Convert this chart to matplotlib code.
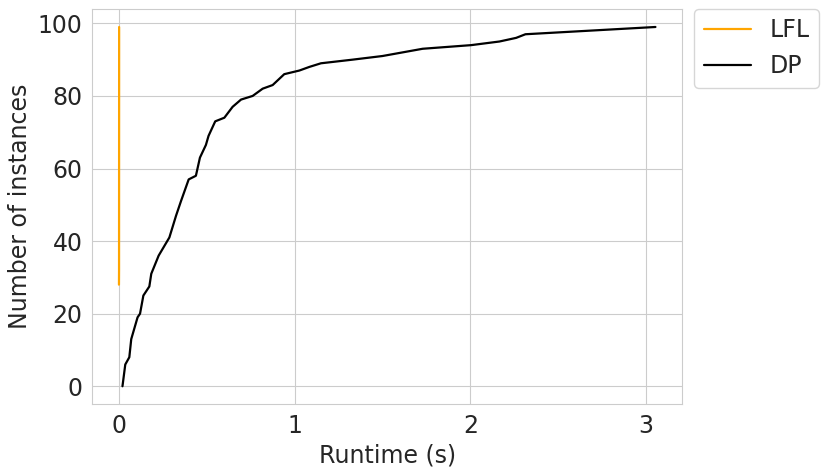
import matplotlib
matplotlib.use("Agg")
import matplotlib.pyplot as plt
import seaborn as sns

# LFL: all runtimes essentially zero
lfl_runtime = [0.0, 0.0005, 0.001]
lfl_count = [28, 32, 99]

# DP: cumulative number of solved instances vs runtime
dp_runtime = [0.02, 0.036, 0.059, 0.07, 0.106, 0.12, 0.139, 0.173, 0.184, 0.226,
              0.287, 0.325, 0.353, 0.397, 0.438, 0.461, 0.495, 0.51, 0.548, 0.60,
              0.647, 0.695, 0.761, 0.818, 0.875, 0.941, 1.027, 1.084, 1.15, 1.33,
              1.50, 1.729, 2.005, 2.166, 2.261, 2.314, 3.054]
dp_count = [0, 6, 8, 13, 19, 20, 25, 27.5, 31, 36,
            41, 47, 51, 57, 58, 63, 66.5, 69, 73, 74,
            77, 79, 80, 82, 83, 86, 87, 88, 89, 90,
            91, 93, 94, 95, 96, 97, 99]

sns.set_style("whitegrid")
plt.rcParams['font.family'] = ['DejaVu Sans']

fig, ax = plt.subplots(figsize=(8.3, 4.75), dpi=100)
ax.plot(lfl_runtime, lfl_count, color='orange', lw=1.6, label='LFL')
ax.plot(dp_runtime, dp_count, color='black', lw=1.6, label='DP')

ax.set_xlabel('Runtime (s)', fontsize=17)
ax.set_ylabel('Number of instances', fontsize=17)
ax.tick_params(labelsize=17)
ax.set_xticks([0, 1, 2, 3])
ax.set_yticks([0, 20, 40, 60, 80, 100])
ax.legend(bbox_to_anchor=(1.02, 1), loc='upper left', borderaxespad=0, fontsize=17)

fig.subplots_adjust(left=0.111, right=0.822, top=0.981, bottom=0.149)
fig.savefig('out.png', dpi=100)
